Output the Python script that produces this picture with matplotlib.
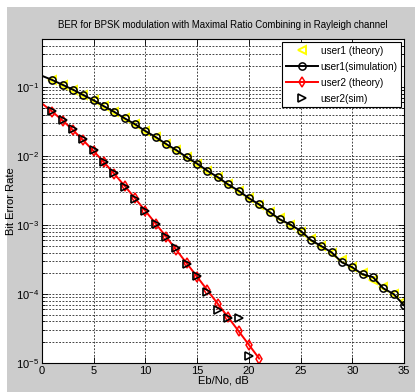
import matplotlib
matplotlib.use("Agg")
import matplotlib.pyplot as plt
from matplotlib.patches import Rectangle

plt.rcParams['font.family'] = ['Liberation Sans', 'DejaVu Sans']

# Eb/No axis (dB)
ebno1 = list(range(0, 36))
ebno2_th = list(range(0, 22))
ebno2_sim = list(range(0, 21))

# user1 (1 antenna)
ber1_theory = [0.1464, 0.1267, 0.1085, 0.0919, 0.0771, 0.0642, 0.0530, 0.0435, 0.0355, 0.0288,
               0.0233, 0.0188, 0.0151, 0.0121, 0.00966, 0.00772, 0.00616, 0.00491, 0.00392, 0.00312,
               0.00248, 0.00197, 0.00157, 0.00125, 0.000994, 0.000789, 0.000628, 0.000499, 0.000396,
               0.000315, 0.000250, 0.000199, 0.000158, 0.000125, 0.0000995, 0.0000791]
ber1_sim = [0.1462, 0.1270, 0.1082, 0.0921, 0.0768, 0.0645, 0.0528, 0.0437, 0.0353, 0.0290,
            0.0231, 0.0189, 0.0150, 0.0122, 0.00960, 0.00778, 0.00612, 0.00495, 0.00388, 0.00315,
            0.00246, 0.00199, 0.00155, 0.00121, 0.00102, 0.000827, 0.000606, 0.000496, 0.000402,
            0.000288, 0.000244, 0.000193, 0.000176, 0.000121, 0.000100, 0.0000686]

# user2 (2 antennas, MRC)
ber2_theory = [0.0580, 0.0441, 0.0328, 0.0238, 0.0169, 0.0118, 0.00813, 0.00551, 0.00369, 0.00244,
               0.00160, 0.00105, 0.000677, 0.000434, 0.000278, 0.000178, 0.000113, 0.0000721,
               0.0000460, 0.0000291, 0.0000184, 0.0000116]
ber2_sim = [0.0585, 0.0450, 0.0333, 0.0244, 0.0176, 0.0122, 0.00826, 0.00561, 0.00359, 0.00238,
            0.00160, 0.00103, 0.000677, 0.000460, 0.000269, 0.000182, 0.000108, 0.0000586,
            0.0000454, 0.0000444, 0.0000126]

fig = plt.figure(figsize=(4.15, 3.92), dpi=100, facecolor='white')
# grey figure area (screenshot has a white strip at top/left)
fig.patches.append(Rectangle((7 / 415, 0), 1, 385 / 392, transform=fig.transFigure,
                             facecolor='#cccccc', edgecolor='none', zorder=-10))

ax = fig.add_axes([42 / 415, 29 / 392, 362 / 415, 324 / 392])
ax.set_facecolor('white')

skip = slice(1, None)
ax.semilogy(ebno1, ber1_theory, '<', color='yellow', ms=5.5, mew=1.4, mfc='none',
            markevery=skip, label='user1 (theory)')
ax.semilogy(ebno1, ber1_sim, '-o', color='black', lw=1.4, ms=5.2, mew=1.1, mfc='none',
            markevery=skip, label='user1(simulation)')
ax.semilogy(ebno2_th, ber2_theory, '-d', color='red', lw=1.4, ms=5.2, mew=1.1, mfc='none',
            markevery=skip, label='user2 (theory)')
ax.semilogy(ebno2_sim, ber2_sim, '>', color='black', ms=6, mew=1.2, mfc='none',
            markevery=skip, label='user2(sim)')

ax.set_xlim(0, 35)
ax.set_ylim(1e-5, 0.5)
ax.set_xticks(range(0, 36, 5))
ax.grid(True, which='both', color='0.15', linestyle=(0, (2.2, 1.8)), lw=0.6)
ax.tick_params(which='both', direction='in', top=True, right=True, labelsize=8,
               width=0.6, pad=2)
ax.tick_params(which='major', length=4)
ax.tick_params(which='minor', length=2)
for s in ax.spines.values():
    s.set_linewidth(0.8)

ax.set_title('BER for BPSK modulation with Maximal Ratio Combining in Rayleigh channel',
             fontsize=6.9, pad=8)
ax.set_xlabel('Eb/No, dB', fontsize=8, labelpad=0)
ax.set_ylabel('Bit Error Rate', fontsize=8)
ax.yaxis.set_label_coords(-0.072, 0.5)

leg = ax.legend(loc='upper right', fontsize=7.2, fancybox=False, framealpha=1,
                edgecolor='black', borderaxespad=0.3, handlelength=3.2,
                borderpad=0.35, labelspacing=0.6, handletextpad=0.3)
leg.get_frame().set_linewidth(0.8)

fig.savefig('out.png', dpi=100, facecolor=fig.get_facecolor())
